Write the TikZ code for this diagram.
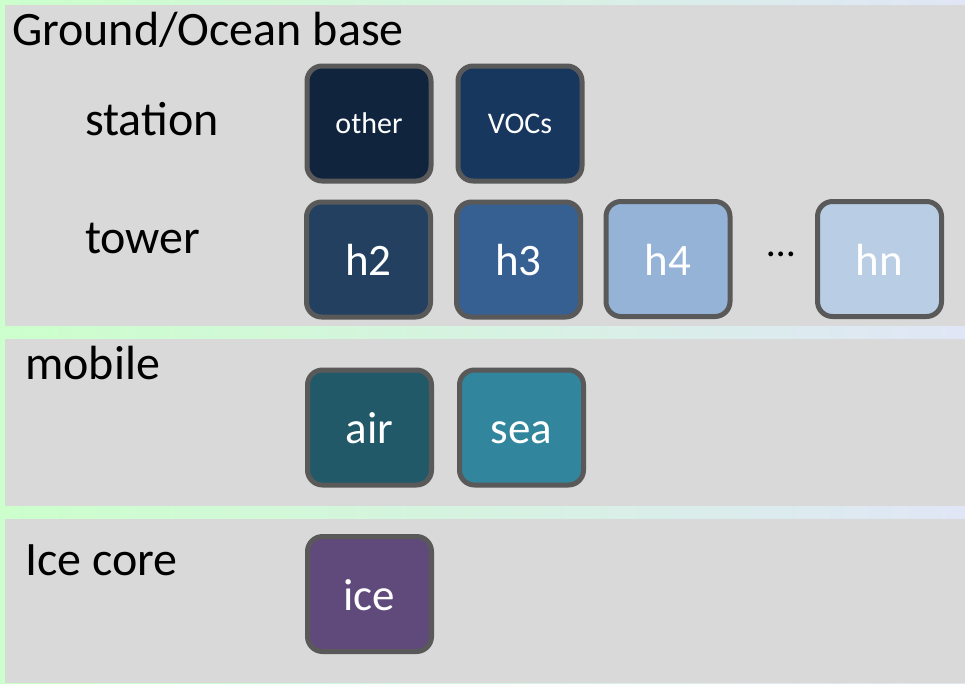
\documentclass[tikz,border=0pt]{standalone}
\usepackage{fontspec}
\setmainfont{Carlito}
\definecolor{bgL}{HTML}{CCFFCC}
\definecolor{bgR}{HTML}{E0E6F6}
\definecolor{panel}{HTML}{D9D9D9}
\definecolor{frame}{HTML}{595959}
\definecolor{cOther}{HTML}{10243E}
\definecolor{cVOC}{HTML}{17375E}
\definecolor{cHtwo}{HTML}{244061}
\definecolor{cHthree}{HTML}{366092}
\definecolor{cHfour}{HTML}{95B3D7}
\definecolor{cHn}{HTML}{B9CDE5}
\definecolor{cAir}{HTML}{215968}
\definecolor{cSea}{HTML}{31859C}
\definecolor{cIce}{HTML}{604A7B}
\begin{document}
\begin{tikzpicture}[x=1pt,y=-1pt,
  tile/.style={draw=frame, line width=5pt, rounded corners=15pt,
    minimum width=124pt, minimum height=115pt, inner sep=0pt,
    text height=32pt, text depth=0pt,
    text=white, font=\fontsize{45}{50}\selectfont},
  smalltile/.style={tile, text height=19pt, font=\fontsize{30}{36}\selectfont},
  lbl/.style={anchor=base west, inner sep=0pt, text=black,
    font=\fontsize{48}{54}\selectfont}]
\useasboundingbox (0,0) rectangle (965,683);
\shade[left color=bgL, right color=bgR] (0,0) rectangle (965,683);
\fill[panel] (5,5) rectangle (965,326);
\fill[panel] (5,339) rectangle (965,506);
\fill[panel] (5,519) rectangle (965,683);
% labels
\node[lbl] (lground) at (12,45) {Ground/Ocean base};
\node[lbl] (lstation) at (85,135) {station};
\node[lbl] (ltower) at (85,253) {tower};
\node[lbl] (lmobile) at (25,379) {mobile};
\node[lbl] (lice) at (25,575) {Ice core};
% tiles
\node[smalltile, fill=cOther] (other) at (369,123.5) {other};
\node[smalltile, fill=cVOC] (vocs) at (520,123.5) {VOCs};
\node[tile, fill=cHtwo] (h2) at (368.5,259.5) {h2};
\node[tile, fill=cHthree] (h3) at (518.5,259.5) {h3};
\node[tile, fill=cHfour] (h4) at (668,259) {h4};
\node[tile, fill=cHn] (hn) at (879.5,259) {hn};
\node[anchor=base, inner sep=0pt, font=\fontsize{40}{48}\selectfont] (dots) at (781,256) {…};
\node[tile, fill=cAir] (air) at (369.5,427.5) {air};
\node[tile, fill=cSea] (sea) at (521.5,427.5) {sea};
\node[tile, fill=cIce] (ice) at (369.5,594) {ice};
\end{tikzpicture}
\end{document}
